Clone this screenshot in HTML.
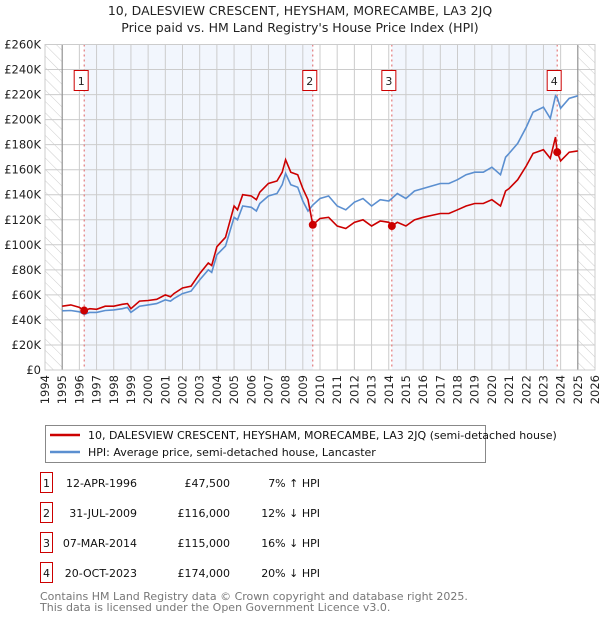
<!DOCTYPE html>
<html><head><meta charset="utf-8"><style>
body{margin:0;background:#fff;font-family:"DejaVu Sans","Liberation Sans",sans-serif;}
svg text{font-family:"DejaVu Sans","Liberation Sans",sans-serif;}
</style></head><body>
<svg id="c" width="600" height="620" xmlns="http://www.w3.org/2000/svg">
<defs><pattern id="hatch" width="8" height="8" patternUnits="userSpaceOnUse" patternTransform="rotate(-45)"><line x1="0" y1="0" x2="0" y2="8" stroke="#ccc" stroke-width="1"/></pattern></defs>
<text x="300" y="15" text-anchor="middle" font-size="12.5" fill="#222">10, DALESVIEW CRESCENT, HEYSHAM, MORECAMBE, LA3 2JQ</text>
<text x="300" y="32" text-anchor="middle" font-size="12.5" fill="#222">Price paid vs. HM Land Registry's House Price Index (HPI)</text>
<g id="plot"></g>
<g>
<rect x="45.5" y="425.5" width="440" height="37" fill="#fff" stroke="#888"/>
<line x1="50" y1="435" x2="80" y2="435" stroke="#cc0000" stroke-width="2.5"/>
<text x="88" y="439" font-size="11" fill="#111">10, DALESVIEW CRESCENT, HEYSHAM, MORECAMBE, LA3 2JQ (semi-detached house)</text>
<line x1="50" y1="452" x2="80" y2="452" stroke="#5b8fd0" stroke-width="2.5"/>
<text x="88" y="456" font-size="11" fill="#111">HPI: Average price, semi-detached house, Lancaster</text>
</g>
<g id="table" font-size="11" fill="#111"></g>
<text x="40" y="600" font-size="11" fill="#777">Contains HM Land Registry data © Crown copyright and database right 2025.</text>
<text x="40" y="611" font-size="11" fill="#777">This data is licensed under the Open Government Licence v3.0.</text>
</svg>
<script>
const dates=[1995.0,1995.5,1996.0,1996.28,1996.6,1997.0,1997.5,1998.0,1998.5,1998.8,1999.0,1999.5,2000.0,2000.5,2001.0,2001.3,2001.5,2002.0,2002.5,2003.0,2003.5,2003.7,2004.0,2004.5,2005.0,2005.2,2005.5,2006.0,2006.3,2006.5,2007.0,2007.5,2007.8,2008.0,2008.3,2008.7,2009.0,2009.3,2009.58,2010.0,2010.5,2011.0,2011.5,2012.0,2012.5,2013.0,2013.5,2014.0,2014.18,2014.5,2015.0,2015.5,2016.0,2016.5,2017.0,2017.5,2018.0,2018.5,2019.0,2019.5,2020.0,2020.5,2020.8,2021.0,2021.5,2022.0,2022.4,2023.0,2023.4,2023.7,2023.8,2024.0,2024.5,2025.0];
const hpi=[47.3,47.5,46.5,44.4,46,46,47.5,48,49,50,46,51,52,53,56,55,57,61,63,72,80,78,92,99,122,120,131,130,127,133,139,141,148,157,148,146,135,127,131.8,137,139,131,128,134,137,131,136,135,137,141,137,143,145,147,149,149,152,156,158,158,162,156,170,173,181,194,206,210,201,219,217.5,209,217,219];
const price=[51,52,50,47.5,49,48.5,51,51,52.5,53,49,55,55.5,56.5,60,58.5,61,65.5,67,77,85.5,83.5,98.5,106,131,128,140,139,136,142,149,151,158,168,158,156,145,136,116,121,122,115,113,118,120,115,119,118,115,118,115,120,122,123.5,125,125,128,131,133,133,136,131,143,145,152,163,173,176,169,186,174,167,174,175];
const saleDates=[1996.28,2009.58,2014.18,2023.8];
const salePrices=[47.5,116,115,174];
const saleLabels=["12-APR-1996","31-JUL-2009","07-MAR-2014","20-OCT-2023"];
const salePriceText=["£47,500","£116,000","£115,000","£174,000"];
const saleHpiText=["7% ↑ HPI","12% ↓ HPI","16% ↓ HPI","20% ↓ HPI"];
const yTicks=[0,20,40,60,80,100,120,140,160,180,200,220,240,260];
const xTicks=[1994,1995,1996,1997,1998,1999,2000,2001,2002,2003,2004,2005,2006,2007,2008,2009,2010,2011,2012,2013,2014,2015,2016,2017,2018,2019,2020,2021,2022,2023,2024,2025,2026];
const L=45,R=595,T=44.5,B=370;
const X=y=>L+(y-1994)/32*(R-L);
const Y=v=>B-v/260*(B-T);
const NS="http://www.w3.org/2000/svg";
const plot=document.getElementById('plot');
function mk(tag,attrs,parent){const e=document.createElementNS(NS,tag);for(const k in attrs)e.setAttribute(k,attrs[k]);(parent||plot).appendChild(e);return e;}
let e;
e=mk('rect',{x:L,y:T,width:R-L,height:B-T,fill:'#fff'});


[[saleDates[0],saleDates[1]],[saleDates[2],saleDates[3]]].forEach(b=>{
 e=mk('rect',{x:X(b[0]),y:T,width:X(b[1])-X(b[0]),height:B-T,fill:'#eef3fc',opacity:0.75});
 
 
});
e=mk('rect',{x:L,y:T,width:X(1995)-L,height:B-T,fill:'url(#hatch)'});


e=mk('rect',{x:X(2025),y:T,width:R-X(2025),height:B-T,fill:'url(#hatch)'});


xTicks.forEach(t=>{
 e=mk('line',{x1:X(t),y1:T,x2:X(t),y2:B,stroke:'#ccc','stroke-width':1});
 
 
 e=mk('text',{x:0,y:0,transform:`translate(${X(t)+4},${B+5}) rotate(-90)`,'text-anchor':'end','font-size':11.5,fill:'#222'});
 e.textContent=t;
 
 
});
yTicks.forEach(t=>{
 e=mk('line',{x1:L,y1:Y(t),x2:R,y2:Y(t),stroke:'#ccc','stroke-width':1});
 
 
 e=mk('text',{x:L-4,y:Y(t)+4,'text-anchor':'end','font-size':11.5,fill:'#222'});
 e.textContent=t===0?'£0':'£'+t+'K';
 
 
});
e=mk('line',{x1:X(1995),y1:T,x2:X(1995),y2:B,stroke:'#888'});


e=mk('line',{x1:X(2025),y1:T,x2:X(2025),y2:B,stroke:'#888'});


saleDates.forEach((d,i)=>{
 e=mk('line',{x1:X(d),y1:T,x2:X(d),y2:B,stroke:'#e06060','stroke-dasharray':'2,3'});
 
 
});
const pts=a=>a.map((v,i)=>X(dates[i]).toFixed(1)+','+Y(v).toFixed(1)).join(' ');
e=mk('polyline',{points:pts(hpi),fill:'none',stroke:'#5b8fd0','stroke-width':1.6});


e=mk('polyline',{points:pts(price),fill:'none',stroke:'#cc0000','stroke-width':1.6});


saleDates.forEach((d,i)=>{
 e=mk('circle',{cx:X(d),cy:Y(salePrices[i]),r:4,fill:'#cc0000'});
 
 
 e=mk('rect',{x:X(d)-10,y:70.5,width:14,height:20,fill:'#fff',stroke:'#cc0000'});
 
 
 e=mk('text',{x:X(d)-3,y:85,'text-anchor':'middle','font-size':11,fill:'#222'});
 e.textContent=i+1;
 
 
});
e=mk('rect',{x:L,y:T,width:R-L,height:B-T,fill:'none',stroke:'#ccc'});


const tb=document.getElementById('table');
saleDates.forEach((d,i)=>{
 const y=483+i*30;
 e=mk('rect',{x:40.5,y:y-10.5,width:12,height:20,fill:'#fff',stroke:'#cc0000'},tb);
 
 
 e=mk('text',{x:46.5,y:y+4,'text-anchor':'middle'},tb); e.textContent=i+1;
 
 
 e=mk('text',{x:137,y:y+4,'text-anchor':'end'},tb); e.textContent=saleLabels[i];
 
 
 e=mk('text',{x:230,y:y+4,'text-anchor':'end'},tb); e.textContent=salePriceText[i];
 
 
 e=mk('text',{x:320,y:y+4,'text-anchor':'end'},tb); e.textContent=saleHpiText[i];
 
 
});
</script>
</body></html>
